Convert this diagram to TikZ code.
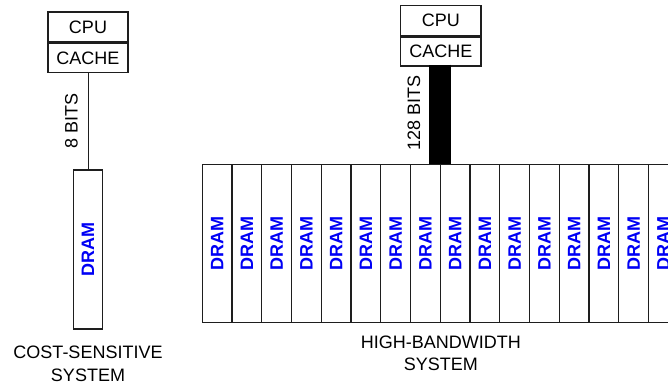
\documentclass[tikz,border=0pt]{standalone}
\usepackage{fontspec}
\setmainfont{Liberation Sans}
\definecolor{dramblue}{RGB}{0,0,245}
\definecolor{edge}{RGB}{30,30,30}
\begin{document}
\begin{tikzpicture}[x=1pt,y=-1pt,
  box/.style={draw=edge,line width=1.2pt,fill=white,inner sep=0pt,minimum width=80pt,font=\fontsize{18}{20}\selectfont},
  dramcol/.style={draw=edge,line width=1.2pt,inner sep=0pt,minimum width=29.75pt,minimum height=158.4pt},
  dramtxt/.style={text=dramblue,font=\fontsize{18}{20}\selectfont\bfseries,rotate=90},
  lbl/.style={font=\fontsize{18}{20}\selectfont,inner sep=0pt},
  caption/.style={font=\fontsize{18}{22.5}\selectfont,align=center,inner sep=0pt}]
\useasboundingbox (0,0) rectangle (668,386);
\clip (0,0) rectangle (668,386);
% cost-sensitive system
\node[box,minimum height=30pt] (cpu1) at (88,27) {CPU};
\node[box,minimum height=29.3pt,anchor=north] (cache1) at (cpu1.south) {CACHE};
\node[dramcol,minimum width=29.4pt,minimum height=159pt] (dram0) at (88,249.5) {};
\node[dramtxt] at (dram0.center) {DRAM};
\draw[edge,line width=1pt] (cache1.south) -- (dram0.north);
\node[lbl,rotate=90] (b8) at (71.5,121) {8 BITS};
\node[caption] (cap1) at (88,364) {COST-SENSITIVE\\SYSTEM};
% high-bandwidth system
\foreach \i in {0,...,15} {
  \node[dramcol] (d\i) at ({202.3+29.75*(\i+0.5)},243.5) {};
  \node[dramtxt] at (d\i.center) {DRAM};
}
\node[box,minimum width=80.3pt,minimum height=30.4pt] (cpu2) at (440.8,20.5) {CPU};
\node[box,minimum width=80.3pt,minimum height=29pt,anchor=north] (cache2) at (cpu2.south) {CACHE};
\coordinate (bustop) at (440.3,64.7);
\draw[line width=21.8pt,line cap=butt] (bustop) -- (bustop |- d7.north);
\node[lbl,rotate=90] (b128) at (414,113) {128 BITS};
\node[caption] (cap2) at (440.8,353.3) {HIGH-BANDWIDTH\\SYSTEM};
\end{tikzpicture}
\end{document}
